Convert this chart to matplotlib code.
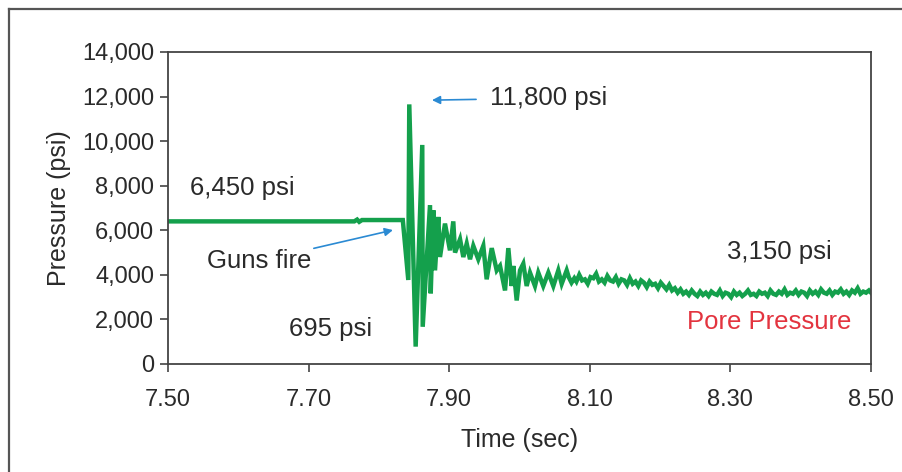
import matplotlib
matplotlib.use('Agg')
import matplotlib.pyplot as plt
from matplotlib.lines import Line2D
from matplotlib.ticker import FuncFormatter

plt.rcParams['font.family'] = ['Liberation Sans', 'DejaVu Sans']

# gauge record
time_sec = [7.500, 7.765, 7.769, 7.772, 7.776, 7.834, 7.8418, 7.8432, 7.8523, 7.8617,
            7.8623, 7.8727, 7.8737, 7.8774, 7.8798, 7.8845, 7.8869, 7.8940, 7.9011,
            7.9058, 7.9083, 7.9154, 7.9201, 7.9249, 7.9296, 7.9343, 7.9414, 7.9485,
            7.9533, 7.9605, 7.9676, 7.9723, 7.9794, 7.9841, 7.9889, 7.9912, 7.9960,
            8.0007, 8.0054, 8.0102, 8.0149, 8.0220, 8.0267, 8.0338, 8.0410, 8.0481,
            8.0552, 8.0600, 8.0671,
            8.070, 8.074, 8.078, 8.081, 8.085, 8.089, 8.093, 8.097, 8.101, 8.105,
            8.109, 8.113, 8.117, 8.121, 8.125, 8.129, 8.133, 8.137, 8.141, 8.145,
            8.149, 8.153, 8.157, 8.161, 8.165, 8.169, 8.173, 8.177, 8.181, 8.185,
            8.189, 8.193, 8.197, 8.201, 8.205, 8.209, 8.213, 8.217, 8.221, 8.225,
            8.229, 8.233, 8.237, 8.241, 8.245, 8.249, 8.253, 8.257, 8.261, 8.265,
            8.269, 8.273, 8.277, 8.281, 8.285, 8.289, 8.293, 8.297, 8.301, 8.305,
            8.309, 8.313, 8.317, 8.321, 8.325, 8.329, 8.333, 8.337, 8.341, 8.345,
            8.349, 8.353, 8.357, 8.361, 8.365, 8.369, 8.373, 8.377, 8.381, 8.385,
            8.389, 8.393, 8.397, 8.401, 8.405, 8.409, 8.413, 8.417, 8.421, 8.425,
            8.429, 8.433, 8.437, 8.441, 8.445, 8.449, 8.453, 8.457, 8.461, 8.465,
            8.469, 8.473, 8.477, 8.481, 8.485, 8.489, 8.493, 8.497, 8.500]
pressure_psi = [6400, 6400, 6480, 6380, 6460, 6460, 3770, 11650, 780, 9830,
                1670, 7130, 3170, 6900, 4200, 6600, 4800, 6300, 5100,
                6400, 5000, 5600, 4800, 5400, 4700, 5300, 4700, 5300,
                3800, 5200, 4200, 4400, 3300, 5200, 3500, 4400, 2850,
                4200, 4500, 3500, 4100, 3500, 4100, 3500, 4100, 3500,
                4200, 3600, 4200,
                3900, 3650, 3850, 3700, 4000, 3750, 3800, 3600, 3900, 3850,
                4050, 3700, 3800, 3650, 3950, 3750, 3700, 3900, 3600, 3800,
                3750, 3550, 3850, 3600, 3700, 3500, 3750, 3650, 3450, 3700,
                3550, 3600, 3400, 3650, 3500, 3350, 3550, 3300, 3400, 3200,
                3350, 3150, 3250, 3100, 3300, 3150, 3050, 3250, 3100, 3200,
                3050, 3250, 3150, 3100, 3300, 3050, 3200, 3150, 3000, 3250,
                3100, 3200, 3050, 3150, 3300, 3100, 3150, 3050, 3250, 3150,
                3200, 3050, 3300, 3150, 3100, 3250, 3150, 3350, 3100, 3200,
                3150, 3300, 3100, 3250, 3200, 3050, 3300, 3150, 3250, 3100,
                3350, 3200, 3150, 3300, 3100, 3250, 3200, 3350, 3150, 3250,
                3100, 3300, 3200, 3400, 3150, 3250, 3200, 3300, 3200]

x_ticks = [7.50, 7.70, 7.90, 8.10, 8.30, 8.50]
y_ticks = [0, 2000, 4000, 6000, 8000, 10000, 12000, 14000]

line_green = '#14a04c'
arrow_blue = '#2b8ad3'
text_col = '#2a2a2a'

fig = plt.figure(figsize=(9.02, 4.72), dpi=100)
ax = fig.add_axes([168 / 902, 108 / 472, 703 / 902, 312 / 472])

ax.plot(time_sec, pressure_psi, color=line_green, lw=3.2, solid_joinstyle='miter')

ax.set_xlim(7.5, 8.5)
ax.set_ylim(0, 14000)
ax.set_xticks(x_ticks)
ax.set_yticks(y_ticks)
ax.xaxis.set_major_formatter(FuncFormatter(lambda v, p: '%.2f' % v))
ax.yaxis.set_major_formatter(FuncFormatter(lambda v, p: '{:,.0f}'.format(v)))
ax.tick_params(direction='out', length=6, width=1.2, colors='#444444',
               labelsize=17, labelcolor=text_col, pad=4)
ax.tick_params(axis='x', pad=12)
for s in ax.spines.values():
    s.set_color('#444444')
    s.set_linewidth(1.3)

ax.set_xlabel('Time (sec)', fontsize=18, color=text_col, labelpad=12)
ax.set_ylabel('Pressure (psi)', fontsize=18, color=text_col, labelpad=8)

# labels on the trace
ax.text(7.531, 7900, '6,450 psi', fontsize=18.5, color=text_col, va='center')
ax.text(7.672, 1570, '695 psi', fontsize=18.5, color=text_col, va='center')
ax.text(8.295, 5020, '3,150 psi', fontsize=18.5, color=text_col, va='center')
ax.text(8.238, 1880, 'Pore Pressure', fontsize=18.5, color='#e3343f', va='center')

ax.annotate('Guns fire', xy=(7.820, 6010), xytext=(7.555, 4620), fontsize=18.5,
            color=text_col, va='center',
            arrowprops=dict(arrowstyle='-|>', color=arrow_blue, lw=1.2,
                            mutation_scale=12, shrinkA=72, shrinkB=0))
ax.annotate('11,800 psi', xy=(7.8755, 11840), xytext=(7.958, 11930), fontsize=18.5,
            color=text_col, va='center',
            arrowprops=dict(arrowstyle='-|>', color=arrow_blue, lw=1.2,
                            mutation_scale=12, shrinkA=8, shrinkB=0))

# outer frame of the figure panel
fig.add_artist(Line2D([9 / 902, 9 / 902], [0, 1 - 9 / 472], color='#555555', lw=1.6))
fig.add_artist(Line2D([9 / 902, 1], [1 - 9 / 472, 1 - 9 / 472], color='#555555', lw=1.6))

fig.savefig('out.png', dpi=100)
